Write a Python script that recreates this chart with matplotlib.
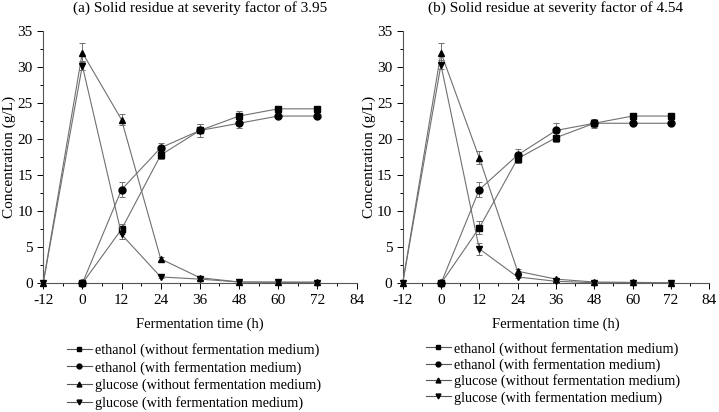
import matplotlib

matplotlib.use("Agg")
import matplotlib.pyplot as plt
from matplotlib.ticker import MultipleLocator

plt.rcParams["font.family"] = ["Liberation Serif", "DejaVu Serif"]
plt.rcParams["font.size"] = 10.5
plt.rcParams["axes.unicode_minus"] = False

# sampling times (h)
t_glu = [-12, 0, 12, 24, 36, 48, 60, 72]
t_eth = [0, 12, 24, 36, 48, 60, 72]

titles = [
    "(a) Solid residue at severity factor of 3.95",
    "(b) Solid residue at severity factor of 4.54",
]
labels = [
    "ethanol (without fermentation medium)",
    "ethanol (with fermentation medium)",
    "glucose (without fermentation medium)",
    "glucose (with fermentation medium)",
]

# panel (a)
a_eth_wo = [0, 7.5, 17.8, 21.2, 23.2, 24.2, 24.2]
a_eth_wo_err = [0, 0.7, 0.6, 0.9, 0.7, 0.2, 0.2]
a_eth_w = [0, 13.0, 18.8, 21.2, 22.2, 23.2, 23.2]
a_eth_w_err = [0, 1.0, 0.7, 0.9, 0.6, 0.2, 0.2]
a_glu_wo = [0, 32.0, 22.7, 3.4, 0.8, 0.2, 0.2, 0.2]
a_glu_wo_err = [0, 1.3, 0.8, 0.3, 0.2, 0.1, 0.1, 0.1]
a_glu_w = [0, 30.2, 6.8, 0.9, 0.6, 0.2, 0.15, 0.1]
a_glu_w_err = [0, 0.6, 0.6, 0.2, 0.1, 0.1, 0.1, 0.1]

# panel (b)
b_eth_wo = [0, 7.7, 17.3, 20.2, 22.2, 23.2, 23.2]
b_eth_wo_err = [0, 0.9, 0.6, 0.6, 0.5, 0.2, 0.2]
b_eth_w = [0, 13.0, 17.8, 21.2, 22.2, 22.2, 22.2]
b_eth_w_err = [0, 1.0, 0.8, 1.0, 0.6, 0.2, 0.2]
b_glu_wo = [0, 32.0, 17.4, 1.7, 0.6, 0.2, 0.15, 0.1]
b_glu_wo_err = [0, 1.3, 0.9, 0.3, 0.1, 0.1, 0.1, 0.1]
b_glu_w = [0, 30.3, 4.8, 0.9, 0.3, 0.1, 0.1, 0.05]
b_glu_w_err = [0, 0.6, 0.8, 0.2, 0.1, 0.1, 0.1, 0.1]

panels = [
    [(t_eth, a_eth_wo, a_eth_wo_err), (t_eth, a_eth_w, a_eth_w_err),
     (t_glu, a_glu_wo, a_glu_wo_err), (t_glu, a_glu_w, a_glu_w_err)],
    [(t_eth, b_eth_wo, b_eth_wo_err), (t_eth, b_eth_w, b_eth_w_err),
     (t_glu, b_glu_wo, b_glu_wo_err), (t_glu, b_glu_w, b_glu_w_err)],
]
markers = ["s", "o", "^", "v"]

fig = plt.figure(figsize=(7.19, 4.12), dpi=100)
axes = [
    fig.add_axes([0.060, 0.312, 0.436, 0.613]),
    fig.add_axes([0.560, 0.312, 0.4264, 0.613]),
]
# legend anchors and row spacing for each panel
legend_pos = [(0.093, 0.168), (0.592, 0.171)]
legend_spacing = [0.27, 0.17]

for ax, series, title, lpos, lsp in zip(axes, panels, titles, legend_pos, legend_spacing):
    for (x, y, err), m, lab in zip(series, markers, labels):
        ax.errorbar(
            x, y, yerr=err, color="#707070", linewidth=0.8, marker=m,
            markersize=5, markerfacecolor="black", markeredgecolor="black",
            ecolor="#707070", elinewidth=0.7, capsize=2.5, capthick=0.7,
            label=lab, clip_on=False, zorder=3,
        )

    ax.set_xlim(-12, 84)
    ax.set_ylim(0, 35)
    ax.xaxis.set_major_locator(MultipleLocator(12))
    ax.xaxis.set_minor_locator(MultipleLocator(6))
    ax.yaxis.set_major_locator(MultipleLocator(5))
    ax.yaxis.set_minor_locator(MultipleLocator(2.5))
    ax.tick_params(which="major", direction="out", length=4, width=0.7, labelsize=11)
    ax.tick_params(which="minor", direction="out", length=2.5, width=0.7)
    ax.spines["top"].set_visible(False)
    ax.spines["right"].set_visible(False)
    ax.spines["left"].set_color("#555555")
    ax.spines["bottom"].set_color("#555555")
    ax.set_xlabel("Fermentation time (h)", fontsize=10.5, labelpad=8)
    ax.set_ylabel("Concentration (g/L)", fontsize=11, labelpad=1)
    ax.set_title(title, fontsize=11, pad=14)

    leg_handles = [
        plt.Line2D([], [], color="#555555", linewidth=0.8, marker=m, markersize=3.5,
                   markerfacecolor="black", markeredgecolor="black")
        for m in markers
    ]
    fig.legend(
        leg_handles, labels, loc="upper left", bbox_to_anchor=lpos,
        frameon=False, fontsize=10.3, handlelength=1.75, handletextpad=0.25,
        labelspacing=lsp, borderaxespad=0, borderpad=0,
    )

fig.savefig("out.png", dpi=100)
